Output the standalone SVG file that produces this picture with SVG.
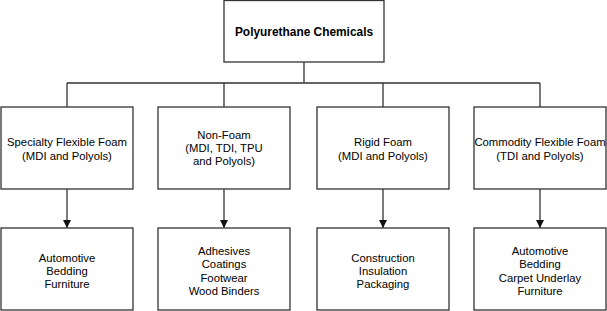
<svg xmlns="http://www.w3.org/2000/svg" width="607" height="311" viewBox="0 0 607 311">
<defs>
<style>
.box{fill:#fff;stroke:#333;stroke-width:1.3}
.t{font-family:"Liberation Sans",Arial,sans-serif;font-size:11.3px;fill:#000;text-anchor:middle}
.b{font-weight:bold;font-size:11.9px}
.c{fill:none;stroke:#333;stroke-width:1.3}
</style>
<marker id="arr" viewBox="0 0 10 10" refX="10" refY="5" markerWidth="8" markerHeight="8" markerUnits="userSpaceOnUse" orient="auto">
<path d="M0,0 L10,5 L0,10 z" fill="#111"/>
</marker>
</defs>
<rect width="607" height="311" fill="#fff"/>
<g id="connectors">
<path class="c" d="M304,62 V83 M67,83 H540 M67,83 V107 M224,83 V107 M383,83 V107 M540,83 V107"/>
<path class="c" d="M67,189 V228" marker-end="url(#arr)"/>
<path class="c" d="M224,189 V228" marker-end="url(#arr)"/>
<path class="c" d="M383,189 V228" marker-end="url(#arr)"/>
<path class="c" d="M540,189 V228" marker-end="url(#arr)"/>
</g>
<g id="root">
<rect class="box" x="224" y="0.5" width="160" height="61.5"/>
<text class="t b" x="304" y="36">Polyurethane Chemicals</text>
</g>
<g id="specialty">
<rect class="box" x="1" y="107" width="132" height="82"/>
<text class="t" x="67" y="146">Specialty Flexible Foam</text>
<text class="t" x="67" y="159.5">(MDI and Polyols)</text>
</g>
<g id="nonfoam">
<rect class="box" x="158" y="107" width="132" height="82"/>
<text class="t" x="224" y="138.5">Non-Foam</text>
<text class="t" x="224" y="152">(MDI, TDI, TPU</text>
<text class="t" x="224" y="165">and Polyols)</text>
</g>
<g id="rigid">
<rect class="box" x="317" y="107" width="132" height="82"/>
<text class="t" x="383" y="146">Rigid Foam</text>
<text class="t" x="383" y="159.5">(MDI and Polyols)</text>
</g>
<g id="commodity">
<rect class="box" x="474" y="107" width="132" height="82"/>
<text class="t" x="540" y="146">Commodity Flexible Foam</text>
<text class="t" x="540" y="159.5">(TDI and Polyols)</text>
</g>
<g id="specialty-uses">
<rect class="box" x="1" y="228" width="132" height="82"/>
<text class="t" x="67" y="261.5">Automotive</text>
<text class="t" x="67" y="274.5">Bedding</text>
<text class="t" x="67" y="288">Furniture</text>
</g>
<g id="nonfoam-uses">
<rect class="box" x="158" y="228" width="132" height="82"/>
<text class="t" x="224" y="254.5">Adhesives</text>
<text class="t" x="224" y="268">Coatings</text>
<text class="t" x="224" y="281.5">Footwear</text>
<text class="t" x="224" y="294.5">Wood Binders</text>
</g>
<g id="rigid-uses">
<rect class="box" x="317" y="228" width="132" height="82"/>
<text class="t" x="383" y="261.5">Construction</text>
<text class="t" x="383" y="274.5">Insulation</text>
<text class="t" x="383" y="288">Packaging</text>
</g>
<g id="commodity-uses">
<rect class="box" x="474" y="228" width="132" height="82"/>
<text class="t" x="540" y="254.5">Automotive</text>
<text class="t" x="540" y="268">Bedding</text>
<text class="t" x="540" y="281.5">Carpet Underlay</text>
<text class="t" x="540" y="294.5">Furniture</text>
</g>
</svg>
